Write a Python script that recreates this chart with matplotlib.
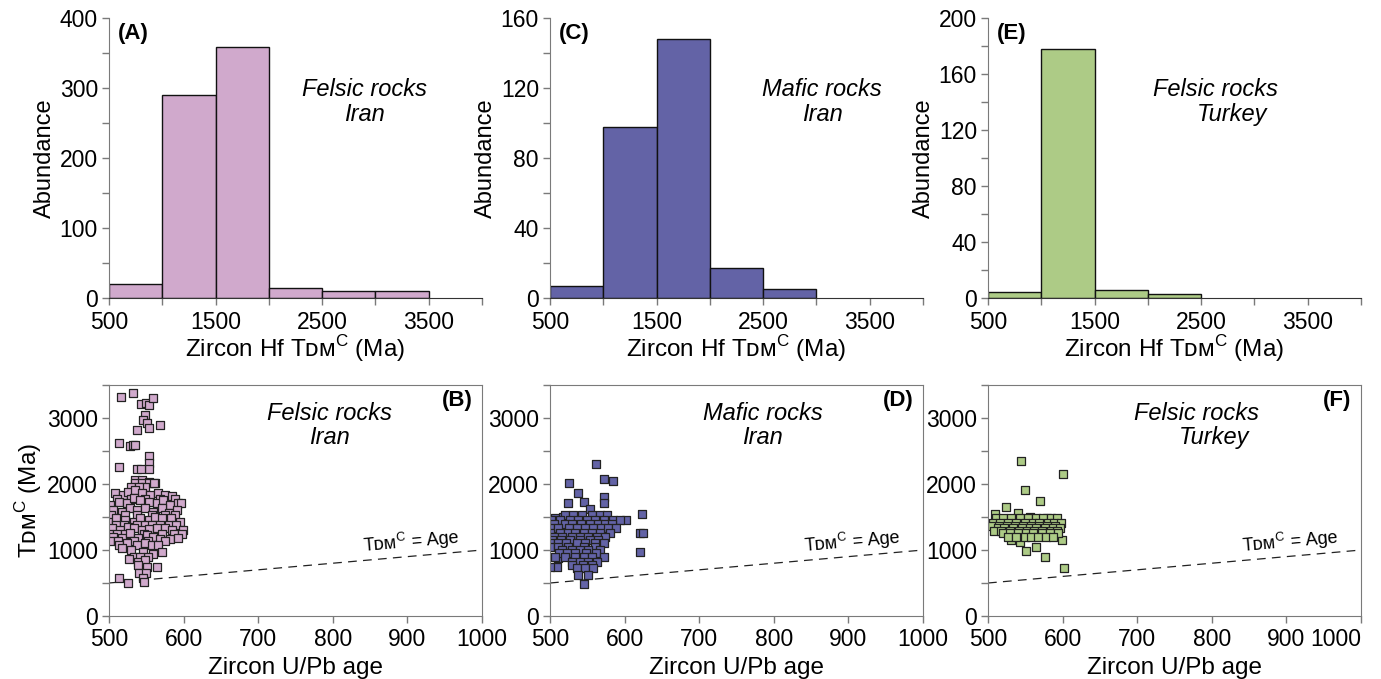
import matplotlib.pyplot as plt
import numpy as np
from matplotlib.ticker import MultipleLocator

plt.rcParams['font.family'] = ['Liberation Sans', 'DejaVu Sans']

# ---- histogram data (bin left edges, counts) ----
binsA = [500, 1000, 1500, 2000, 2500, 3000]
countsA = [20, 290, 359, 15, 10, 10]
binsC = [500, 1000, 1500, 2000, 2500]
countsC = [7, 98, 148, 17, 5]
binsE = [500, 1000, 1500, 2000]
countsE = [4, 178, 6, 3]
bin_width = 500

# ---- scatter data: zircon U/Pb age vs TDM^C ----
ageB = [516, 532, 543, 550, 553, 559, 548, 545, 551, 553, 568, 537, 514, 528, 532, 535,
        553, 553, 553, 514, 538, 543, 535, 544, 553, 562,
        535, 544, 553, 560, 530, 548, 540,
        508, 519, 526, 535, 544, 555, 566, 575, 585,
        511, 529, 548, 568, 588,
        501, 513, 524, 533, 542, 553, 564, 573, 582, 593, 597,
        506, 517, 528, 538, 548, 559, 571, 580, 591,
        503, 522, 537, 557, 575, 589,
        499, 510, 521, 533, 542, 553, 562, 571, 583, 595,
        509, 520, 538, 548, 558, 569, 580, 590,
        504, 515, 526, 533, 544, 553, 564, 575, 584, 599,
        500, 511, 522, 547, 571, 587, 598,
        506, 517, 528, 539, 551, 559, 568, 582, 593,
        502, 512, 533, 552, 575,
        513, 524, 537, 548, 557, 566,
        517, 530, 545, 559, 571,
        533, 552, 541,
        527, 539, 548, 539, 551, 564, 540, 549,
        514, 526, 546, 547]
tdmB = [3322, 3374, 3212, 3232, 3192, 3307, 3045, 2969, 2919, 2853, 2894, 2818, 2616, 2575, 2590, 2590,
        2424, 2323, 2222, 2252, 2227, 2227, 2060, 2060, 2035, 2010,
        2020, 2020, 2020, 2010, 1950, 1950, 1950,
        1858, 1833, 1883, 1909, 1858, 1833, 1858, 1833, 1818,
        1780, 1780, 1780, 1780, 1780,
        1681, 1732, 1707, 1782, 1757, 1732, 1707, 1757, 1681, 1707, 1707,
        1606, 1580, 1631, 1606, 1631, 1580, 1631, 1555, 1606,
        1530, 1530, 1530, 1530, 1530, 1530,
        1429, 1479, 1454, 1429, 1479, 1454, 1505, 1479, 1479, 1429,
        1380, 1380, 1380, 1380, 1380, 1380, 1380, 1380,
        1328, 1303, 1353, 1328, 1303, 1313, 1328, 1328, 1303, 1303,
        1250, 1250, 1250, 1250, 1250, 1250, 1250,
        1202, 1176, 1252, 1176, 1227, 1202, 1161, 1161, 1176,
        1130, 1130, 1130, 1130, 1130,
        1075, 1100, 1075, 1100, 1075, 1075,
        1025, 999, 974, 939, 974,
        900, 900, 900,
        858, 823, 848, 772, 747, 737, 650, 650,
        571, 505, 571, 520]

ageD = [562, 572, 584, 526, 537, 572, 572, 524, 546, 554, 602, 623, 620, 625, 621,
        507, 506, 518, 509, 500, 511,
        520, 531, 543, 556, 567, 576,
        502, 513, 527, 538, 549, 560, 572, 585, 594,
        505, 520, 530, 541, 553, 564, 574, 583,
        500, 511, 525, 536, 547, 558, 569, 578, 589,
        500, 513, 524, 534, 545, 556, 567, 580,
        505, 516, 529, 540, 551, 563, 574,
        503, 515, 527, 540, 553, 565,
        500, 511, 522, 536, 547, 560, 572,
        500, 511, 524, 545, 560,
        516, 529, 540, 551, 567,
        512, 523, 534, 548, 562,
        507, 520, 534, 545, 556, 572,
        529, 540, 551, 563,
        530, 544, 556,
        536, 547, 558,
        538, 551, 546]
tdmD = [2303, 2071, 2045, 2010, 1859, 1798, 1707, 1707, 1722, 1616, 1449, 1550, 1252, 1252, 965,
        1480, 1328, 1505, 747, 737, 874,
        1530, 1530, 1530, 1530, 1530, 1530,
        1455, 1455, 1455, 1455, 1455, 1455, 1455, 1455, 1455,
        1390, 1390, 1390, 1390, 1390, 1390, 1390, 1390,
        1328, 1328, 1328, 1328, 1328, 1328, 1328, 1328, 1328,
        1265, 1265, 1265, 1265, 1265, 1265, 1265, 1265,
        1202, 1202, 1202, 1202, 1202, 1202, 1202,
        1150, 1150, 1150, 1150, 1150, 1150,
        1101, 1101, 1101, 1101, 1101, 1101, 1101,
        1050, 1050, 1050, 1050, 1050,
        1000, 1000, 1000, 1000, 1000,
        950, 950, 950, 950, 950,
        899, 899, 899, 899, 899, 899,
        823, 823, 823, 823,
        770, 770, 770,
        722, 722, 722,
        621, 621, 480]

ageF = [544, 600, 550, 570, 509, 524, 540, 556, 579, 502, 599, 551, 564, 577, 602, 531, 543,
        511, 520, 531, 543, 554, 565, 574, 585, 592,
        507, 516, 527, 538, 549, 560, 569, 581, 589, 598,
        505, 515, 525, 536, 547, 558, 569, 579, 590,
        513, 522, 534, 545, 556, 565, 576, 587, 596,
        508, 518, 530, 541, 552, 562, 573, 584, 593,
        520, 529, 540, 551, 560, 572, 583, 594,
        527, 538, 549, 558, 567, 578, 587]
tdmF = [2353, 2146, 1909, 1747, 1545, 1646, 1556, 1505, 1490, 1379, 1151, 990, 1051, 899, 722, 1151, 1126,
        1480, 1480, 1480, 1480, 1480, 1480, 1480, 1480, 1480,
        1404, 1404, 1404, 1404, 1404, 1404, 1404, 1404, 1404, 1404,
        1370, 1370, 1370, 1370, 1370, 1370, 1370, 1370, 1370,
        1328, 1328, 1328, 1328, 1328, 1328, 1328, 1328, 1328,
        1290, 1290, 1290, 1290, 1290, 1290, 1290, 1290, 1290,
        1252, 1252, 1252, 1252, 1252, 1252, 1252, 1252,
        1192, 1192, 1192, 1192, 1192, 1192, 1192]

one_to_one = [500, 1000]

pink = '#D0A9CC'
blue = '#6363A6'
green = '#ADCB86'

fig = plt.figure(figsize=(13.81, 6.79), dpi=100)
lefts = [109 / 1381, 550 / 1381, 988 / 1381]
w = 373 / 1381
# T with small-cap DM at the baseline and a superscript C
tdm_label = 'T\u1d05\u1d0d$^{\\mathregular{C}}$'
spine_grey = '#7a7a7a'

# ---- top row: histograms ----
hists = [(binsA, countsA, pink, 400, 100, 50, '(A)', 'Felsic rocks', 'Iran', 0.686, 0),
         (binsC, countsC, blue, 160, 40, 20, '(C)', 'Mafic rocks', 'Iran', 0.73, 0),
         (binsE, countsE, green, 200, 40, 20, '(E)', 'Felsic rocks', 'Turkey', 0.61, 0.045)]
for i, (bins, counts, col, ymax, major, minor, tag, l1, l2, tx, shift) in enumerate(hists):
    ax = fig.add_axes([lefts[i], 0.561, w, 0.412])
    ax.bar(bins, counts, width=bin_width, align='edge', color=col, edgecolor='#111111', linewidth=1.0)
    ax.set_xlim(500, 4000)
    ax.set_ylim(0, ymax)
    ax.set_xticks(np.arange(500, 4001, 500))
    ax.set_xticklabels(['500', '', '1500', '', '2500', '', '3500', ''])
    ax.yaxis.set_major_locator(MultipleLocator(major))
    ax.yaxis.set_minor_locator(MultipleLocator(minor))
    for s in ['top', 'right']:
        ax.spines[s].set_visible(False)
    ax.spines['left'].set_color(spine_grey)
    ax.spines['bottom'].set_color('#333333')
    ax.tick_params(which='both', direction='out', length=5, width=1, color=spine_grey,
                   labelsize=16.5)
    ax.tick_params(axis='x', pad=4)
    ax.tick_params(axis='y', pad=3)
    ax.set_ylabel('Abundance', fontsize=17, labelpad=3)
    ax.set_xlabel('Zircon Hf ' + tdm_label + ' (Ma)', fontsize=17.5, labelpad=0)
    ax.text(0.025, 0.945, tag, transform=ax.transAxes, fontsize=16, fontweight='bold',
            ha='left', va='center')
    ax.text(tx, 0.745, l1, transform=ax.transAxes, fontsize=17,
            style='italic', ha='center', va='center')
    ax.text(tx + shift, 0.655, l2, transform=ax.transAxes, fontsize=17,
            style='italic', ha='center', va='center')

# ---- bottom row: scatter plots ----
scatters = [(ageB, tdmB, pink, '(B)', 'Felsic rocks', 'Iran', 0.59, 0),
            (ageD, tdmD, blue, '(D)', 'Mafic rocks', 'Iran', 0.57, 0),
            (ageF, tdmF, green, '(F)', 'Felsic rocks', 'Turkey', 0.56, 0.045)]
for i, (xs, ys, col, tag, l1, l2, tx, shift) in enumerate(scatters):
    ax = fig.add_axes([lefts[i], 0.0928, w, 0.340])
    ax.plot(one_to_one, one_to_one, color='#222222', linewidth=0.9, dashes=(7, 5), zorder=1)
    ax.scatter(xs, ys, marker='s', s=38, color=col, edgecolors='#222222', linewidths=0.9, zorder=2)
    ax.set_xlim(500, 1000)
    ax.set_ylim(0, 3500)
    ax.set_xticks(np.arange(500, 1001, 100))
    ax.yaxis.set_major_locator(MultipleLocator(1000))
    ax.yaxis.set_minor_locator(MultipleLocator(500))
    for s in ax.spines.values():
        s.set_color(spine_grey)
    ax.tick_params(which='both', direction='out', length=5, width=1, color=spine_grey,
                   labelsize=16.5)
    ax.tick_params(axis='x', pad=4)
    ax.tick_params(axis='y', pad=3)
    if i == 2:
        ax.get_xticklabels()[-1].set_horizontalalignment('right')
    ax.set_xlabel('Zircon U/Pb age', fontsize=17.5, labelpad=4)
    if i == 0:
        ax.set_ylabel(tdm_label + ' (Ma)', fontsize=17.5, labelpad=2)
    ax.text(0.975, 0.935, tag, transform=ax.transAxes, fontsize=16, fontweight='bold',
            ha='right', va='center')
    ax.text(tx, 0.875, l1, transform=ax.transAxes, fontsize=17, style='italic',
            ha='center', va='center')
    ax.text(tx + shift, 0.775, l2, transform=ax.transAxes, fontsize=17, style='italic',
            ha='center', va='center')
    ax.text(905, 1125, tdm_label + ' = Age', fontsize=13, rotation=5, ha='center', va='center')

fig.savefig('out.png', dpi=100)
